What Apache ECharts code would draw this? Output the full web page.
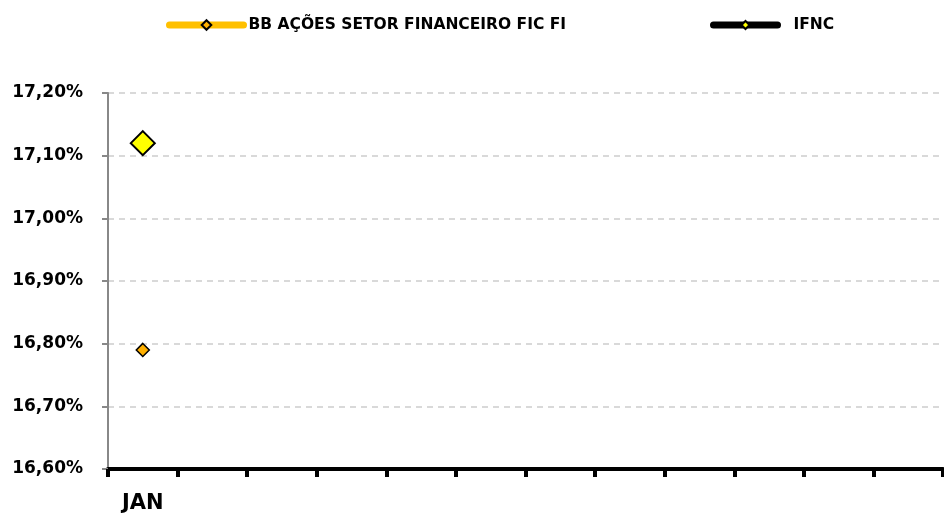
<!DOCTYPE html>
<html><head><meta charset="utf-8">
<script src="https://cdn.jsdelivr.net/npm/echarts@6/dist/echarts.min.js"></script>
<style>html,body{margin:0;padding:0;background:#fff}#c{width:944px;height:518px}</style>
</head><body><div id="c"></div>
<script>
const months = ['JAN','','','','','','','','','','',''];
const bbValues = [16.79, null, null, null, null, null, null, null, null, null, null, null];
const ifncValues = [17.12, null, null, null, null, null, null, null, null, null, null, null];
const seriesNames = ['BB AÇÕES SETOR FINANCEIRO FIC FI', 'IFNC'];

const FONT = 'DejaVu Sans';
const chart = echarts.init(document.getElementById('c'));
chart.setOption({
  animation: false,
  backgroundColor: '#fff',
  legend: [
    {data: [seriesNames[0]], left: 161, top: 12, itemWidth: 74, itemHeight: 12, itemGap: 5,
     lineStyle: {width: 7, cap: 'round'},
     textStyle: {fontFamily: FONT, fontWeight: 'bold', fontSize: 15.5, color: '#000'}},
    {data: [seriesNames[1]], left: 705, top: 12, itemWidth: 64, itemHeight: 10,
     lineStyle: {width: 7, cap: 'round'},
     textStyle: {fontFamily: FONT, fontWeight: 'bold', fontSize: 15.5, color: '#000', padding: [0,0,0,11]}}
  ],
  grid: {left: 108, right: 1, top: 93, bottom: 49},
  xAxis: {
    type: 'category', data: months, boundaryGap: true,
    axisLine: {lineStyle: {color: '#000', width: 4}},
    axisTick: {show: true, length: 8, lineStyle: {color: '#000', width: 4}},
    axisLabel: {interval: 0, margin: 24, fontFamily: FONT, fontWeight: 'bold', fontSize: 21, color: '#000'}
  },
  yAxis: {
    type: 'value', min: 16.6, max: 17.2, interval: 0.1,
    axisLine: {show: true, lineStyle: {color: '#888', width: 2}},
    axisTick: {show: true, length: 6, lineStyle: {color: '#888', width: 2}},
    splitLine: {lineStyle: {color: '#d9d9d9', type: [6, 5], width: 2}},
    axisLabel: {margin: 25, fontFamily: FONT, fontWeight: 'bold', fontSize: 17, color: '#000',
      formatter: v => v.toFixed(2).replace('.', ',') + '%'}
  },
  series: [
    {name: seriesNames[0], type: 'line', data: bbValues, symbol: 'diamond', symbolSize: 13,
     lineStyle: {color: '#FFC000', width: 7, cap: 'round'},
     itemStyle: {color: '#FFB000', borderColor: '#000', borderWidth: 1.5}},
    {name: seriesNames[1], type: 'line', data: ifncValues, symbol: 'diamond', symbolSize: 24,
     lineStyle: {color: '#000', width: 7, cap: 'round'},
     itemStyle: {color: '#FFFF00', borderColor: '#000', borderWidth: 2}}
  ]
});
</script></body></html>
